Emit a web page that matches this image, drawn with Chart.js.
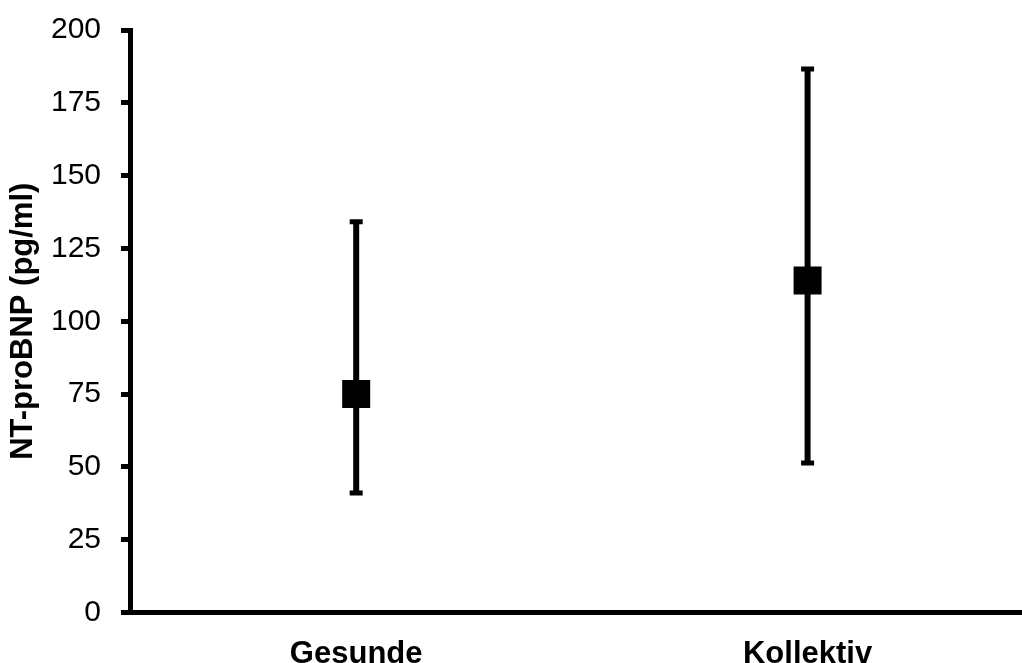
<!DOCTYPE html>
<html>
<head>
<meta charset="utf-8">
<script src="https://cdn.jsdelivr.net/npm/chart.js@4/dist/chart.umd.min.js"></script>
<style>
  html, body { margin: 0; padding: 0; background: #fff; overflow: hidden; }
  #wrap { width: 1022px; height: 663px; position: relative; }
</style>
</head>
<body>
<div id="wrap"><canvas id="c"></canvas></div>
<script>
const categories = ['Gesunde', 'Kollektiv'];
const means = [75, 114];
const lowerBounds = [41, 51.3];
const upperBounds = [134.2, 186.6];
const yTicks = [0, 25, 50, 75, 100, 125, 150, 175, 200];
const yTitle = 'NT-proBNP (pg/ml)';

const FONT = "'Liberation Sans', Arial, sans-serif";

const datasets = [];
datasets.push({
  label: 'Mittelwert',
  data: categories.map((c, i) => ({ x: i + 1, y: means[i] })),
  showLine: false,
  pointStyle: 'rect',
  pointRadius: 19.8,
  pointBorderWidth: 0,
  backgroundColor: '#000',
  borderColor: '#000'
});
categories.forEach((c, i) => {
  datasets.push({
    label: c,
    data: [{ x: i + 1, y: lowerBounds[i] }, { x: i + 1, y: upperBounds[i] }],
    showLine: true,
    borderColor: '#000',
    borderWidth: 6,
    pointStyle: 'line',
    pointRadius: 6.5,
    pointBorderWidth: 5,
    pointBorderColor: '#000',
    backgroundColor: '#000'
  });
});

new Chart(document.getElementById('c'), {
  type: 'scatter',
  data: { datasets },
  options: {
    responsive: true,
    maintainAspectRatio: false,
    animation: false,
    events: [],
    layout: { autoPadding: false, padding: { top: 30, right: 0, bottom: 0, left: 0 } },
    plugins: { legend: { display: false }, tooltip: { enabled: false } },
    scales: {
      x: {
        type: 'linear',
        min: 0.5,
        max: 2.475,
        afterBuildTicks: (scale) => { scale.ticks = categories.map((c, i) => ({ value: i + 1 })); },
        afterFit: (scale) => { scale.height = 50.5; scale.paddingLeft = 0; scale.paddingRight = 0; },
        grid: { display: true, drawOnChartArea: false, drawTicks: false },
        border: { display: true, color: '#000', width: 5 },
        ticks: {
          color: '#000',
          padding: 23,
          maxRotation: 0,
          autoSkip: false,
          font: { family: FONT, size: 31, weight: 'bold' },
          callback: (v) => categories[Math.round(v) - 1] || ''
        }
      },
      y: {
        type: 'linear',
        min: 0,
        max: 200,
        afterBuildTicks: (scale) => { scale.ticks = yTicks.map(v => ({ value: v })); },
        afterFit: (scale) => { scale.width = 130.5; scale.paddingTop = 0; scale.paddingBottom = 0; },
        grid: { display: true, drawOnChartArea: false, drawTicks: true, tickLength: 9.5, color: '#000', lineWidth: 5 },
        border: { display: true, color: '#000', width: 5 },
        ticks: {
          color: '#000',
          padding: 20,
          autoSkip: false,
          font: { family: FONT, size: 30 }
        },
        title: {
          display: true,
          text: yTitle,
          color: '#000',
          padding: { top: 5, bottom: 0 },
          font: { family: FONT, size: 31, weight: 'bold' }
        }
      }
    }
  }
});
</script>
</body>
</html>
